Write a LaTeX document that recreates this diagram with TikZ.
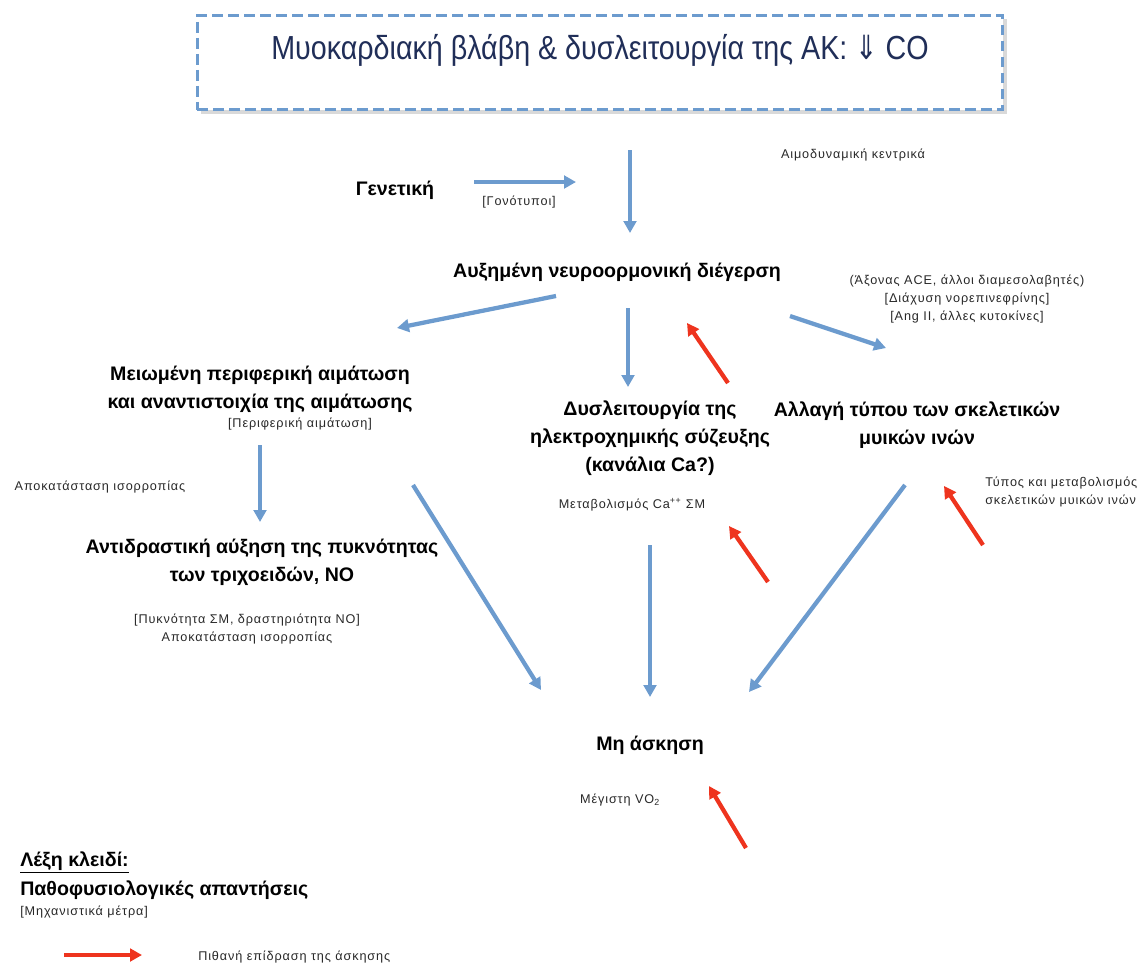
\documentclass[tikz,border=0pt]{standalone}
\usepackage{fontspec}
\setmainfont{Liberation Sans}
\newfontfamily\titlefont[FakeStretch=0.86]{Liberation Sans}
\newfontfamily\smallfont[LetterSpace=7]{Liberation Sans}
\newfontfamily\dejavu[FakeStretch=0.8]{DejaVu Sans}
\usetikzlibrary{arrows.meta}
\definecolor{ablue}{RGB}{108,155,206}
\definecolor{ared}{RGB}{238,52,30}
\definecolor{navy}{RGB}{32,46,88}
\definecolor{smallgray}{RGB}{40,40,40}
\begin{document}
\begin{tikzpicture}[x=0.75pt,y=-0.75pt,
 barrow/.style={draw=ablue,line width=3.2pt,-{Triangle[length=9pt,width=9.5pt]}},
 rarrow/.style={draw=ared,line width=3.2pt,-{Triangle[length=9pt,width=9.5pt]}},
 main/.style={font=\fontsize{14.7}{21}\selectfont\bfseries,align=center,inner sep=0pt},
 small/.style={font=\smallfont\fontsize{9.5}{13.5}\selectfont,text=smallgray,align=center,inner sep=0pt},
 titlebox/.style={draw=ablue,line width=2.4pt,dash pattern=on 8pt off 4pt,minimum width=604pt,minimum height=71pt,inner sep=0pt},
]
\useasboundingbox (0,0) rectangle (1143,965);
% title
\fill[black!15] (201,19) rectangle (1007,114);
\fill[white] (197,15) rectangle (1003,110);
\node[titlebox] (title) at (600,62.5) {};
\node[font=\titlefont\fontsize{25}{30}\selectfont,text=navy,inner sep=0pt] (titletext) at (600,50) {Μυοκαρδιακή βλάβη \& δυσλειτουργία της ΑΚ: {\dejavu ⇓} CO};

% texts
\node[small] (haemo) at (853,155) {Αιμοδυναμική κεντρικά};
\node[main] (genetic) at (395,190) {Γενετική};
\node[small] (genotype) at (519,202) {{[}Γονότυποι{]}};
\node[main] (neuro) at (617,272) {Αυξημένη νευροορμονική διέγερση};
\node[small] (mediators) at (967,299) {(Άξονας ACE, άλλοι διαμεσολαβητές)\\{[}Διάχυση νορεπινεφρίνης{]}\\{[}Ang II, άλλες κυτοκίνες{]}};
\node[main] (perf) at (260,389) {Μειωμένη περιφερική αιμάτωση\\και αναντιστοιχία της αιμάτωσης};
\node[small] (perfm) at (300,424) {{[}Περιφερική αιμάτωση{]}};
\node[small] (restore1) at (100,487) {Αποκατάσταση ισορροπίας};
\node[main] (ecc) at (650,438) {Δυσλειτουργία της\\ηλεκτροχημικής σύζευξης\\(κανάλια Ca?)};
\node[small] (cam) at (632,505) {Μεταβολισμός Ca\textsuperscript{++} ΣΜ};
\node[main] (fibre) at (917,425) {Αλλαγή τύπου των σκελετικών\\μυικών ινών};
\node[small,align=left,anchor=west] (fibrem) at (985,492) {Τύπος και μεταβολισμός\\σκελετικών μυικών ινών};
\node[main] (capil) at (262,562) {Αντιδραστική αύξηση της πυκνότητας\\των τριχοειδών, ΝΟ};
\node[small] (capm) at (247,629) {{[}Πυκνότητα ΣΜ, δραστηριότητα ΝΟ{]}\\Αποκατάσταση ισορροπίας};
\node[main] (noex) at (650,745) {Μη άσκηση};
\node[small] (vo2) at (620,800) {Μέγιστη VO\textsubscript{2}};
% legend
\node[main,anchor=west] (key) at (20,862) {\underline{Λέξη κλειδί:}};
\node[main,anchor=west] (resp) at (20,890) {Παθοφυσιολογικές απαντήσεις};
\node[small,anchor=west] (mech) at (20,912) {{[}Μηχανιστικά μέτρα{]}};
\node[small,anchor=west] (effect) at (198,957) {Πιθανή επίδραση της άσκησης};

% arrow end coordinates
\coordinate (a1s) at (630,150); \coordinate (a1e) at (630,233);
\coordinate (a2s) at (474,182); \coordinate (a2e) at (576,182);
\coordinate (a3s) at (556,296); \coordinate (a3e) at (397,328);
\coordinate (a4s) at (628,308); \coordinate (a4e) at (628,387);
\coordinate (a5s) at (790,316); \coordinate (a5e) at (886,348);
\coordinate (a6s) at (260,445); \coordinate (a6e) at (260,522);
\coordinate (a7s) at (413,485); \coordinate (a7e) at (541,690);
\coordinate (a8s) at (650,545); \coordinate (a8e) at (650,697);
\coordinate (a9s) at (905,485); \coordinate (a9e) at (749,692);
\coordinate (r1s) at (728,383); \coordinate (r1e) at (687,323);
\coordinate (r2s) at (768,582); \coordinate (r2e) at (729,526);
\coordinate (r3s) at (983,545); \coordinate (r3e) at (944,486);
\coordinate (r4s) at (746,848); \coordinate (r4e) at (709,786);
\coordinate (r5s) at (64,955); \coordinate (r5e) at (142,955);

\draw[barrow] (a1s) -- (a1e);
\draw[barrow] (a2s) -- (a2e);
\draw[barrow] (a3s) -- (a3e);
\draw[barrow] (a4s) -- (a4e);
\draw[barrow] (a5s) -- (a5e);
\draw[barrow] (a6s) -- (a6e);
\draw[barrow] (a7s) -- (a7e);
\draw[barrow] (a8s) -- (a8e);
\draw[barrow] (a9s) -- (a9e);
\draw[rarrow] (r1s) -- (r1e);
\draw[rarrow] (r2s) -- (r2e);
\draw[rarrow] (r3s) -- (r3e);
\draw[rarrow] (r4s) -- (r4e);
\draw[rarrow] (r5s) -- (r5e);
\end{tikzpicture}
\end{document}
